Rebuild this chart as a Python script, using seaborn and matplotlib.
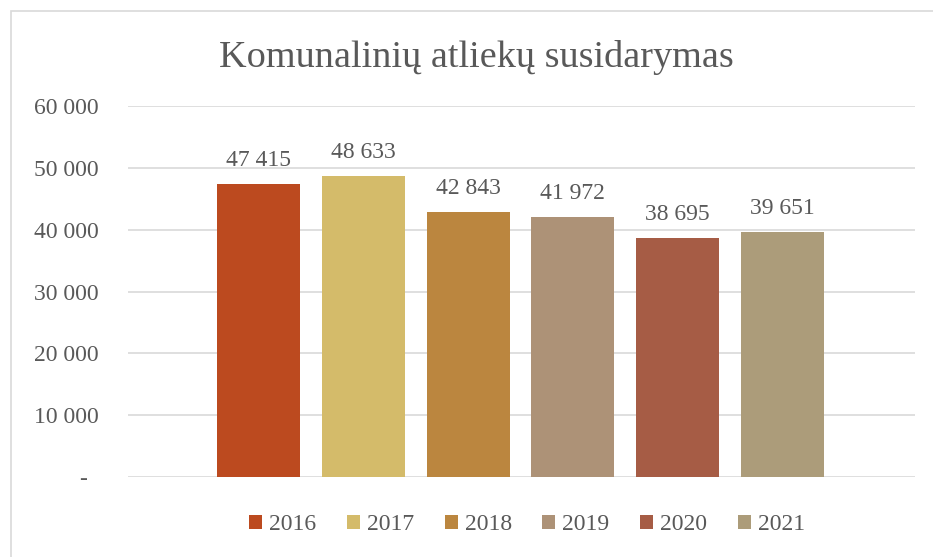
import matplotlib
matplotlib.use("Agg")
import matplotlib.pyplot as plt
import seaborn as sns
import pandas as pd
from matplotlib.patches import Patch, Rectangle
from matplotlib.transforms import ScaledTranslation

years = ["2016", "2017", "2018", "2019", "2020", "2021"]
values = [47415, 48633, 42843, 41972, 38695, 39651]
colors = ["#BC4A1F", "#D4BB6A", "#BB863F", "#AD9277", "#A65C45", "#AC9C7A"]
title = "Komunalinių atliekų susidarymas"
yticks = [0, 10000, 20000, 30000, 40000, 50000, 60000]

sns.set_theme(style="white")
plt.rcParams["font.family"] = ["Liberation Serif", "DejaVu Serif"]
TXT = "#595959"

df = pd.DataFrame({"year": years, "value": values})

fig = plt.figure(figsize=(9.33, 5.57), dpi=100)
ax = fig.add_axes([128/933, 1-477/557, (915-128)/933, (477-106)/557])

sns.barplot(data=df, x="year", y="value", hue="year", palette=colors,
            width=83/105, legend=False, ax=ax, saturation=1, linewidth=0)

ax.set_xlim(-130.5/105, 5 + 132.5/105)
ax.set_ylim(0, 60000)
ax.set_yticks(yticks)
ax.set_yticklabels(["-" if v == 0 else f"{v:,}".replace(",", " ") for v in yticks])
ax.tick_params(axis="y", length=0, pad=21, labelsize=17, labelcolor=TXT)
ax.set_xticks([])
ax.set_xlabel("")
ax.set_ylabel("")
for s in ax.spines.values():
    s.set_visible(False)
ax.grid(axis="y", color="#D9D9D9", linewidth=1.2)
ax.set_axisbelow(True)

lbl0 = ax.get_yticklabels()[0]
lbl0.set_transform(lbl0.get_transform() + ScaledTranslation(-12/100, 0, fig.dpi_scale_trans))

for i, v in enumerate(values):
    ax.annotate(f"{v:,}".replace(",", " "), (i, v), xytext=(0, 13),
                textcoords="offset points", ha="center", va="baseline",
                fontsize=17, color=TXT)

fig.text(476/933, 1-67/557, title, ha="center", va="baseline",
         fontsize=27.5, color=TXT)

handles = [Patch(facecolor=c, edgecolor="none") for c in colors]
fig.legend(handles, years, loc="center", bbox_to_anchor=(527/933, 1-525/557),
           ncol=6, frameon=False, fontsize=17, labelcolor=TXT,
           handlelength=0.55, handleheight=0.55, handletextpad=0.3,
           columnspacing=1.3)

fig.patches.append(Rectangle((11/933, -0.1), 1.2, 1.1 - 11/557, transform=fig.transFigure,
                             fill=False, edgecolor="#D9D9D9", linewidth=1.2, clip_on=False))

fig.savefig("out.png", dpi=100)
